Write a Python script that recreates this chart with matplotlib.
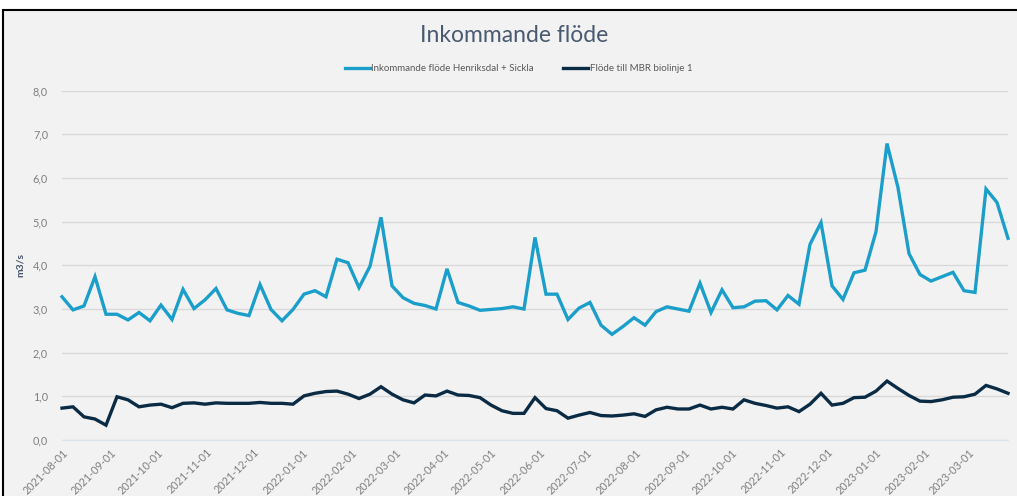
import numpy as np
import pandas as pd
import matplotlib
matplotlib.use("Agg")
import matplotlib.pyplot as plt
import matplotlib.dates as mdates
from matplotlib.patches import Rectangle
from matplotlib.ticker import FuncFormatter

# weekly values, 2021-08-01 .. 2023-03-26
start_date = "2021-08-01"
n_weeks = 87

inkommande = [
    3.28, 2.98, 3.07, 3.74, 2.88, 2.88, 2.75, 2.92, 2.73, 3.09,
    2.76, 3.45, 3.01, 3.21, 3.47, 2.98, 2.90, 2.85, 3.56, 2.99,
    2.73, 2.99, 3.34, 3.42, 3.28, 4.14, 4.06, 3.49, 3.98, 5.10,
    3.53, 3.26, 3.13, 3.08, 3.00, 3.92, 3.15, 3.07, 2.97, 2.99,
    3.01, 3.05, 3.00, 4.64, 3.34, 3.34, 2.76, 3.02, 3.15, 2.63,
    2.42, 2.60, 2.80, 2.63, 2.94, 3.05, 3.00, 2.95, 3.59, 2.92,
    3.44, 3.03, 3.05, 3.18, 3.19, 2.98, 3.31, 3.11, 4.48, 4.98,
    3.53, 3.22, 3.83, 3.89, 4.77, 6.79, 5.78, 4.27, 3.79, 3.64,
    3.74, 3.84, 3.42, 3.38, 5.75, 5.44, 4.62,
]

mbr_biolinje1 = [
    0.73, 0.76, 0.53, 0.48, 0.34, 0.99, 0.92, 0.76, 0.80, 0.82,
    0.74, 0.84, 0.85, 0.82, 0.85, 0.84, 0.84, 0.84, 0.86, 0.84,
    0.84, 0.82, 1.01, 1.07, 1.11, 1.12, 1.05, 0.95, 1.05, 1.22,
    1.05, 0.92, 0.85, 1.03, 1.01, 1.12, 1.03, 1.02, 0.97, 0.80,
    0.67, 0.61, 0.61, 0.97, 0.72, 0.67, 0.50, 0.57, 0.63, 0.56,
    0.55, 0.57, 0.60, 0.54, 0.69, 0.75, 0.71, 0.71, 0.80, 0.71,
    0.75, 0.71, 0.92, 0.84, 0.79, 0.73, 0.76, 0.65, 0.82, 1.07,
    0.80, 0.84, 0.97, 0.98, 1.12, 1.35, 1.18, 1.02, 0.89, 0.88,
    0.92, 0.98, 0.99, 1.05, 1.25, 1.17, 1.07,
]

labels = ["Inkommande flöde Henriksdal + Sickla", "Flöde till MBR biolinje 1"]

dates = pd.date_range(start_date, periods=n_weeks, freq="7D")

light = "#1b9fca"
dark = "#0b2b44"
grey = "#7f7f7f"

plt.rcParams["font.family"] = ["Lato", "DejaVu Sans"]

fig = plt.figure(figsize=(10.17, 4.96), dpi=100, facecolor="white")
# chart frame (screenshot border)
fig.patches.append(Rectangle((3 / 1017, -0.1), 1.2, 1.1 - 10 / 496,
                             transform=fig.transFigure, facecolor="#f2f2f2",
                             edgecolor="black", linewidth=1.5, zorder=-10))

ax = fig.add_axes([62 / 1017, 56 / 496, 946 / 1017, 349.3 / 496])
ax.set_facecolor("none")

ax.plot(dates, inkommande, color=light, linewidth=2.4, label=labels[0],
        solid_joinstyle="miter", clip_on=False)
ax.plot(dates, mbr_biolinje1, color=dark, linewidth=2.4, label=labels[1],
        solid_joinstyle="miter", clip_on=False)

ax.set_ylim(0, 8)
ax.set_yticks(np.arange(0, 9, 1))
ax.yaxis.set_major_formatter(FuncFormatter(lambda v, p: f"{v:.1f}".replace(".", ",")))
ax.grid(axis="y", color="#d9d9d9", linewidth=1)
ax.set_axisbelow(True)

ax.set_xlim(dates[0], dates[-1])
ax.xaxis.set_major_locator(mdates.MonthLocator())
ax.xaxis.set_major_formatter(mdates.DateFormatter("%Y-%m-%d"))
for lbl in ax.get_xticklabels():
    lbl.set_rotation(45)
    lbl.set_ha("right")
    lbl.set_rotation_mode("anchor")

ax.tick_params(axis="both", length=0, colors=grey, labelsize=7.8)
ax.tick_params(axis="x", pad=5)
ax.tick_params(axis="y", pad=10)
for s in ["top", "right", "left"]:
    ax.spines[s].set_visible(False)
ax.spines["bottom"].set_color("#dde3ee")

ax.set_ylabel("m3/s", color="#44546a", fontsize=7.5, fontweight="bold", labelpad=6)

fig.text(0.506, 0.928, "Inkommande flöde", ha="center", va="center",
         fontsize=16.5, color="#4a5a70")

fig.legend(loc="center", bbox_to_anchor=(0.51, 0.862), ncol=2, frameon=False,
           fontsize=7, labelcolor="#595959", handlelength=2.5, columnspacing=3,
           handletextpad=0.2)

fig.savefig("out.png", dpi=100, facecolor=fig.get_facecolor())
